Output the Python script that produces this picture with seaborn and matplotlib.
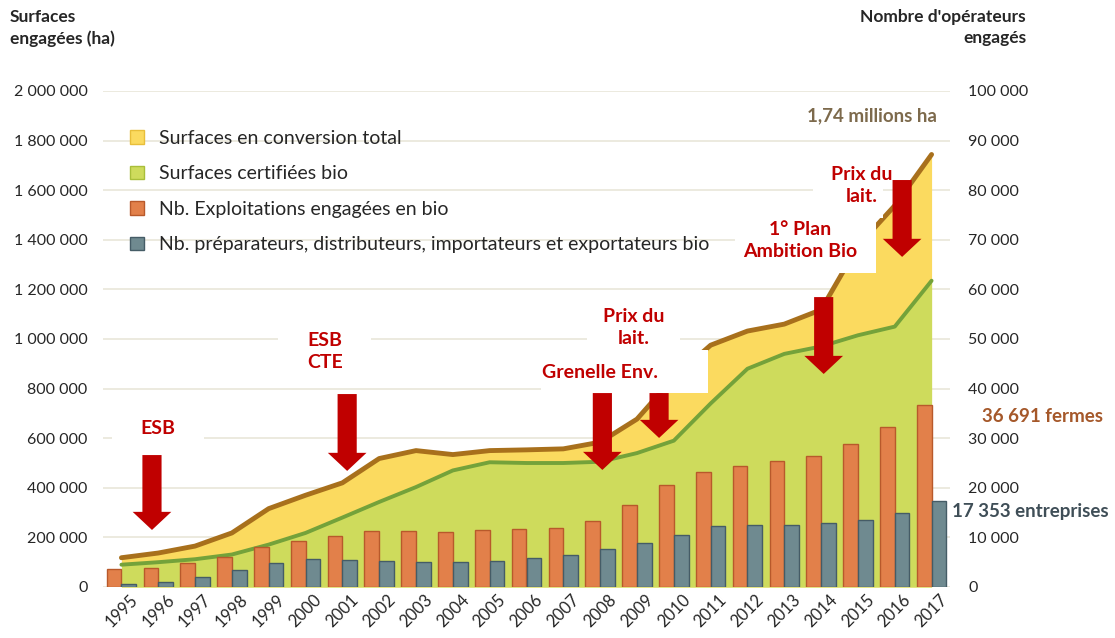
"""
Agriculture bio en France 1995-2017 : surfaces engagées et nombre d'opérateurs
"""

import numpy as np
import pandas as pd
import matplotlib
matplotlib.use("Agg")
import matplotlib.pyplot as plt
from matplotlib.patches import Patch, Rectangle, FancyArrow
from matplotlib.ticker import FuncFormatter, MultipleLocator
import seaborn as sns

# ── Données ──────────────────────────────────────────────────────────────────
annees = ["1995", "1996", "1997", "1998", "1999", "2000", "2001", "2002",
          "2003", "2004", "2005", "2006", "2007", "2008", "2009", "2010",
          "2011", "2012", "2013", "2014", "2015", "2016", "2017"]

surf_total = [118000, 137000, 165000, 218000, 316000, 370000, 420000, 518000,
              550000, 534000, 550000, 553000, 557000, 584000, 677000, 845000,
              975000, 1032000, 1060000, 1118000, 1375000, 1538000, 1744000]

surf_certif = [90000, 100000, 112000, 131000, 171000, 218000, 280000, 343000,
               403000, 470000, 503000, 500000, 500000, 505000, 540000, 590000,
               740000, 880000, 940000, 970000, 1015000, 1050000, 1235000]

nb_fermes = [3538, 3854, 4784, 6139, 8140, 9283, 10364, 11288, 11377, 11059,
             11402, 11640, 11978, 13298, 16446, 20604, 23135, 24425, 25467,
             26466, 28884, 32264, 36691]

nb_entreprises = [670, 1100, 1950, 3400, 4800, 5700, 5500, 5300, 5000, 5000,
                  5200, 5900, 6500, 7700, 8900, 10500, 12200, 12400, 12600,
                  13000, 13600, 15000, 17353]

series = ["Surfaces en conversion total", "Surfaces certifiées bio",
          "Nb. Exploitations engagées en bio",
          "Nb. préparateurs, distributeurs, importateurs et exportateurs bio"]

# événements : (texte, x du texte, y du texte, x flèche, haut flèche, pointe)
evenements = [
    ("ESB",            1.0,  641000,  0.83,  532000,  230000),
    ("ESB\nCTE",       5.53, 950000,  6.13,  778000,  468000),
    ("Grenelle Env.",  13.0, 863000,  13.06, 782000,  472000),
    ("Prix du\nlait.", 13.9, 1047000, 14.6,  782000,  601000),
    ("1° Plan\nAmbition Bio", 18.44, 1396000, 19.07, 1169000, 859000),
    ("Prix du\nlait.", 20.1, 1619000, 21.2,  1641000, 1331000),
]

# cadres blancs derrière les étiquettes : (x0, y0, x1, y1)
cadres = [
    (-0.25, 573000, 2.25, 714000),
    (4.26, 827000, 6.78, 1077000),
    (11.4, 782000, 15.94, 956000),
    (12.65, 956000, 15.18, 1177000),
    (16.67, 1266000, 20.48, 1540000),
    (18.79, 1488000, 20.69, 1762000),
]

# ── Couleurs ─────────────────────────────────────────────────────────────────
JAUNE, BRUN = "#FBDA5F", "#A8701C"
VERT, VERT_LIGNE = "#CEDB5C", "#74A23A"
ORANGE, ORANGE_BORD = "#E2804A", "#B8592B"
GRIS, GRIS_BORD = "#6F8A90", "#455C66"
ROUGE = "#C00000"

sns.set_theme(style="white")
plt.rcParams["font.family"] = ["Lato", "DejaVu Sans"]
plt.rcParams["text.color"] = "#262626"

fig = plt.figure(figsize=(11.15, 6.38), dpi=100)
ax = fig.add_axes([103 / 1115, 1 - 587 / 638, 847 / 1115, 496 / 638])

idx = np.arange(len(annees))

# ── Surfaces (axe gauche) ────────────────────────────────────────────────────
ax.fill_between(idx, 0, surf_total, color=JAUNE, lw=0, zorder=2)
ax.fill_between(idx, 0, surf_certif, color=VERT, lw=0, zorder=3)
sns.lineplot(x=idx, y=surf_total, ax=ax, color=BRUN, lw=3.5,
             solid_capstyle="round", zorder=4)
sns.lineplot(x=idx, y=surf_certif, ax=ax, color=VERT_LIGNE, lw=2.8,
             solid_capstyle="round", zorder=5)

ax.set_ylim(0, 2000000)
ax.yaxis.set_major_locator(MultipleLocator(200000))
fmt = FuncFormatter(lambda v, p: f"{v:,.0f}".replace(",", " "))
ax.yaxis.set_major_formatter(fmt)
ax.yaxis.grid(True, color="#EAE8DC", lw=1.3, zorder=0)
ax.set_axisbelow(True)
for s in ax.spines.values():
    s.set_visible(False)
ax.tick_params(axis="y", length=0, labelsize=11.5, pad=11, labelcolor="#262626")

# ── Opérateurs (axe droit) ───────────────────────────────────────────────────
ax2 = ax.twinx()
df_bars = pd.DataFrame({
    "annee": annees * 2,
    "nb": nb_fermes + nb_entreprises,
    "serie": [series[2]] * len(annees) + [series[3]] * len(annees),
})
sns.barplot(data=df_bars, x="annee", y="nb", hue="serie",
            palette=[ORANGE, GRIS], width=0.8, gap=0, saturation=1,
            legend=False, ax=ax2, zorder=3)
bords = [ORANGE_BORD] * len(annees) + [GRIS_BORD] * len(annees)
for patch, c in zip(ax2.patches, bords):
    patch.set_edgecolor(c)
    patch.set_linewidth(1)

ax2.set_ylim(0, 100000)
ax2.yaxis.set_major_locator(MultipleLocator(10000))
ax2.yaxis.set_major_formatter(fmt)
ax2.set_xlim(-0.5, len(annees) - 0.5)
ax2.set_xlabel("")
ax2.set_ylabel("")
for s in ax2.spines.values():
    s.set_visible(False)
ax2.tick_params(axis="y", length=0, labelsize=11.5, pad=13, labelcolor="#262626")

ax.set_xticks(idx, annees)
ax.set_xlabel("")
ax.tick_params(axis="x", length=0, labelsize=12, pad=3, labelcolor="#262626")
for lab in ax.get_xticklabels():
    lab.set_rotation(45)
    lab.set_ha("center")
    lab.set_va("top")

# ── Annotations ──────────────────────────────────────────────────────────────
for x0, y0, x1, y1 in cadres:
    ax2.add_patch(Rectangle((x0, y0), x1 - x0, y1 - y0, facecolor="white",
                            lw=0, transform=ax.transData, zorder=6))

for txt, tx, ty, fx, haut, pointe in evenements:
    ax2.text(tx, ty, txt, transform=ax.transData, ha="center", va="center",
             color=ROUGE, fontsize=14, fontweight="bold", linespacing=1.35,
             zorder=8)
    ax2.add_patch(FancyArrow(fx, haut, 0, pointe - haut, width=0.52,
                             head_width=1.05, head_length=73000,
                             length_includes_head=True, color=ROUGE, lw=0,
                             transform=ax.transData, zorder=8))

fig.text(872 / 1115, 1 - 116 / 638, "1,74 millions ha", ha="center",
         va="center", color="#7D6A4C", fontsize=13.5, fontweight="bold")
fig.text(982 / 1115, 1 - 416 / 638, "36 691 fermes", ha="left",
         va="center", color="#A5582A", fontsize=13.5, fontweight="bold")
fig.text(952 / 1115, 1 - 512 / 638, "17 353 entreprises", ha="left",
         va="center", color="#3F4E57", fontsize=13.5, fontweight="bold")

fig.text(10 / 1115, 1 - 9 / 638, "Surfaces\nengagées (ha)", ha="left",
         va="top", fontsize=12.5, fontweight="bold", linespacing=1.4)
fig.text(1026 / 1115, 1 - 9 / 638, "Nombre d'opérateurs\nengagés",
         ha="right", va="top", multialignment="right", fontsize=12.5,
         fontweight="bold", linespacing=1.4)

# ── Légende ──────────────────────────────────────────────────────────────────
handles = [
    Patch(facecolor=JAUNE, edgecolor="#E8BE3A"),
    Patch(facecolor=VERT, edgecolor="#A9BE3A"),
    Patch(facecolor=ORANGE, edgecolor=ORANGE_BORD),
    Patch(facecolor=GRIS, edgecolor=GRIS_BORD),
]
fig.legend(handles, series, loc="upper left",
           bbox_to_anchor=(130 / 1115, 1 - 130 / 638), frameon=False,
           fontsize=14, handlelength=0.7, handleheight=0.7,
           handletextpad=0.8, labelspacing=0.95, borderpad=0,
           borderaxespad=0)

fig.savefig("out.png", dpi=100)
